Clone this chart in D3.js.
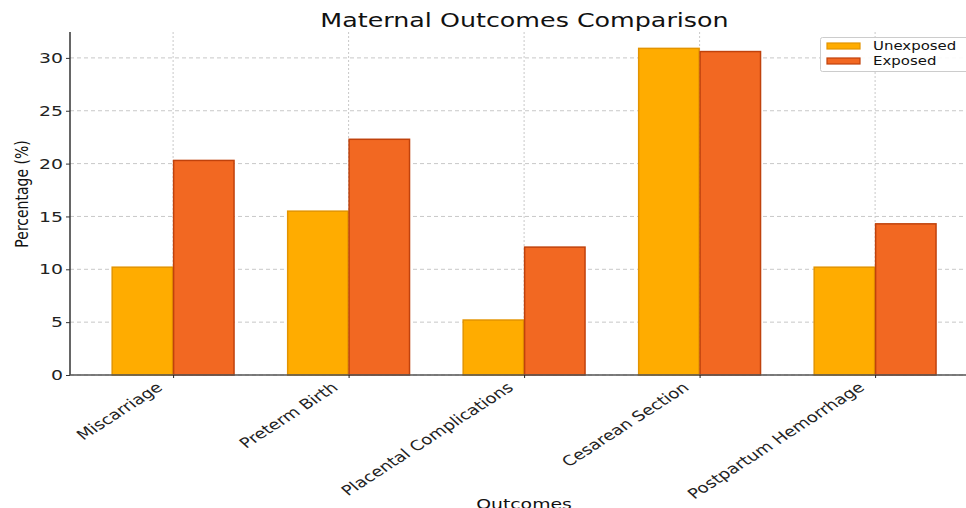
<!DOCTYPE html>
<html>
<head>
<meta charset="utf-8">
<script src="https://cdn.jsdelivr.net/npm/d3@7"></script>
<style>
  html, body { margin: 0; padding: 0; background: #fff; }
  svg { display: block; font-family: "DejaVu Sans", sans-serif; }
</style>
</head>
<body>
<svg id="chart" width="966" height="508"></svg>
<script>
// Outcome categories and percentages for each group
const categories = ["Miscarriage", "Preterm Birth", "Placental Complications", "Cesarean Section", "Postpartum Hemorrhage"];
const unexposed = [10.2, 15.5, 5.2, 30.9, 10.2];
const exposed = [20.3, 22.3, 12.1, 30.6, 14.3];
const seriesNames = ["Unexposed", "Exposed"];
const yTicks = [0, 5, 10, 15, 20, 25, 30];

const fills = ["#FFAC00", "#F26822"];
const strokes = ["#E39400", "#C0420C"];

// Text is drawn wide: horizontal stretch applied to every label
const SX = 1.3;

const svg = d3.select("#chart");
const W = 966, H = 508;
const plot = { left: 70, top: 32, bottom: 375 };

// Category index -> center position
const x = d3.scaleLinear()
  .domain([-0.5875, 4.6])
  .range([plot.left, plot.left + (4.6 + 0.5875) * 175.5]);
const barW = x(0.35) - x(0);

const y = d3.scaleLinear()
  .domain([0, 32.45])
  .range([plot.bottom, plot.top]);

// Grid lines
const grid = svg.append("g");
grid.selectAll("line.h").data(yTicks).join("line")
  .attr("x1", plot.left).attr("x2", W)
  .attr("y1", d => y(d)).attr("y2", d => y(d))
  .attr("stroke", "#c8c8c8").attr("stroke-width", 1)
  .attr("stroke-dasharray", "4,3");
grid.selectAll("line.v").data(categories).join("line")
  .attr("x1", (d, i) => x(i)).attr("x2", (d, i) => x(i))
  .attr("y1", plot.top).attr("y2", plot.bottom)
  .attr("stroke", "#c8c8c8").attr("stroke-width", 1)
  .attr("stroke-dasharray", "2,2");

// Bars
const series = [unexposed, exposed];
series.forEach((vals, s) => {
  svg.append("g").selectAll("rect").data(vals).join("rect")
    .attr("x", (d, i) => x(i) + (s === 0 ? -barW : 0) + 0.5)
    .attr("y", d => y(d))
    .attr("width", barW - 1)
    .attr("height", d => plot.bottom - y(d))
    .attr("fill", fills[s])
    .attr("stroke", strokes[s])
    .attr("stroke-width", 1.5);
});

// Axes
const yAxis = d3.axisLeft(y).tickValues(yTicks).tickSize(4).tickPadding(5);
const gy = svg.append("g").attr("transform", `translate(${plot.left},0)`).call(yAxis);
gy.select(".domain").attr("stroke", "#333").attr("stroke-width", 1.5)
  .attr("d", `M0,${plot.top}V${plot.bottom}`);
gy.selectAll(".tick line").attr("stroke", "#333");
gy.selectAll(".tick text")
  .attr("font-size", 14.5).attr("fill", "#222")
  .attr("font-family", "DejaVu Sans, sans-serif")
  .attr("x", 0)
  .attr("transform", `translate(-7,0) scale(${SX},1)`);

const xAxis = d3.axisBottom(x).tickValues(d3.range(categories.length))
  .tickFormat(i => categories[i]).tickSize(3).tickPadding(4);
const gx = svg.append("g").attr("transform", `translate(0,${plot.bottom})`).call(xAxis);
gx.select(".domain").attr("stroke", "#555").attr("stroke-width", 1.5)
  .attr("d", `M${plot.left},0H${W}`);
gx.selectAll(".tick line").attr("stroke", "#222");
gx.selectAll(".tick text")
  .attr("font-size", 14).attr("fill", "#222")
  .attr("font-family", "DejaVu Sans, sans-serif")
  .attr("text-anchor", "end")
  .attr("x", 0).attr("y", 0).attr("dy", 0)
  .attr("transform", `translate(-10,14) scale(${SX},1) rotate(-40)`);

// Title and axis labels
svg.append("text")
  .attr("transform", `translate(524.5,27) scale(${SX},1)`)
  .attr("text-anchor", "middle").attr("font-size", 19.5).attr("fill", "#111")
  .text("Maternal Outcomes Comparison");
svg.append("text")
  .attr("transform", `translate(524,509) scale(${SX},1)`)
  .attr("text-anchor", "middle").attr("font-size", 14.5).attr("fill", "#111")
  .text("Outcomes");
svg.append("text")
  .attr("transform", `translate(28,194) scale(${SX},1) rotate(-90)`)
  .attr("text-anchor", "middle").attr("font-size", 14).attr("fill", "#111")
  .text("Percentage (%)");

// Legend
const lg = svg.append("g").attr("transform", "translate(820,37)");
lg.append("rect").attr("x", 0.5).attr("y", 0.5).attr("width", 160).attr("height", 34)
  .attr("rx", 2).attr("fill", "#fff").attr("fill-opacity", 0.9)
  .attr("stroke", "#ccc");
seriesNames.forEach((n, i) => {
  lg.append("rect").attr("x", 7).attr("y", 6 + i * 15).attr("width", 33).attr("height", 6)
    .attr("fill", fills[i]).attr("stroke", strokes[i]).attr("stroke-width", 1.2);
  lg.append("text")
    .attr("transform", `translate(53,${13 + i * 15}) scale(${SX},1)`)
    .attr("font-size", 11.5).attr("fill", "#111").text(n);
});
</script>
</body>
</html>
